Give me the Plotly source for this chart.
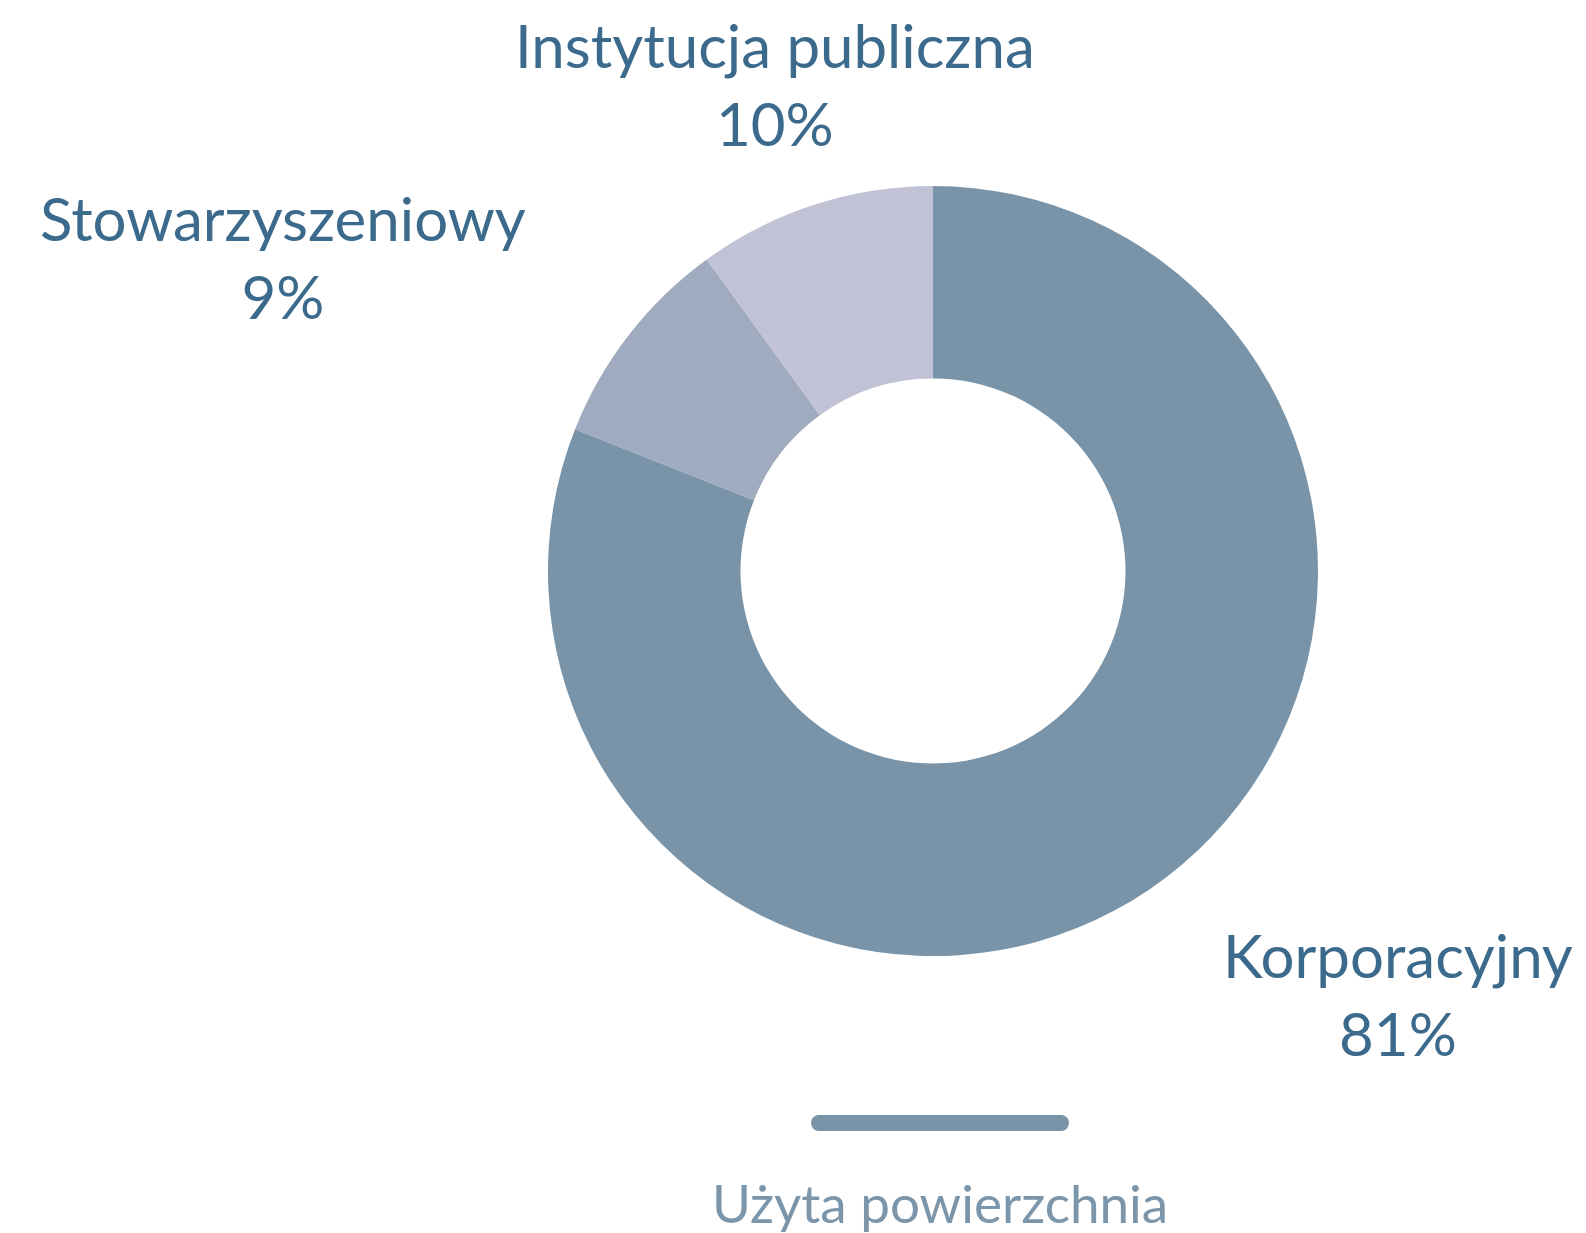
import math
import plotly.graph_objects as go

# ---- data ----
labels = ["Korporacyjny", "Stowarzyszeniowy", "Instytucja publiczna"]
values = [81, 9, 10]
colors = ["#7994a8", "#a0abc0", "#c1c2d6"]
legend_name = "Użyta powierzchnia"

# ---- layout constants (page pixel coordinates) ----
W, H = 1586, 1233
cx, cy = 933, 571      # pie center
R = 385                # outer radius in pixels
LABEL_R = 512          # radius at which labels are anchored
FONT = "Lato, 'Open Sans', sans-serif"
TEXT_COLOR = "#3b6a8c"


def px2x(px):
    return px / W


def py2y(py):
    return 1 - py / H


fig = go.Figure()
fig.add_trace(go.Pie(
    labels=labels,
    values=values,
    hole=0.5,
    sort=False,
    direction="clockwise",
    rotation=0,
    marker=dict(colors=colors, line=dict(width=0)),
    textinfo="none",
    hoverinfo="label+percent",
    showlegend=False,
    domain=dict(x=[px2x(cx - R), px2x(cx + R)],
                y=[py2y(cy + R), py2y(cy - R)]),
))

# labels positioned at mid-angle of each slice
total = sum(values)
cum = 0
annotations = []
for lab, v in zip(labels, values):
    mid = 2 * math.pi * (cum + v / 2) / total
    cum += v
    s, c = math.sin(mid), math.cos(mid)
    px = cx + LABEL_R * s
    py = cy - LABEL_R * c
    if abs(s) < 0.5:
        xa = "center"
    elif s > 0:
        xa = "left"
    else:
        xa = "right"
    pct = round(100 * v / total)
    annotations.append(dict(
        x=px2x(px), y=py2y(py), xref="paper", yref="paper",
        text=f"{lab}<br>{pct}%", showarrow=False,
        xanchor=xa, yanchor="middle", align="center",
        font=dict(family=FONT, size=60, color=TEXT_COLOR),
    ))

# legend: rounded line + caption
lx0, lx1, ly, lw = 819, 1061, 1123, 16
shapes = [
    dict(type="rect", xref="paper", yref="paper",
         x0=px2x(lx0), x1=px2x(lx1), y0=py2y(ly + lw / 2), y1=py2y(ly - lw / 2),
         fillcolor=colors[0], line=dict(width=0)),
    dict(type="circle", xref="paper", yref="paper",
         x0=px2x(lx0 - lw / 2), x1=px2x(lx0 + lw / 2),
         y0=py2y(ly + lw / 2), y1=py2y(ly - lw / 2),
         fillcolor=colors[0], line=dict(width=0)),
    dict(type="circle", xref="paper", yref="paper",
         x0=px2x(lx1 - lw / 2), x1=px2x(lx1 + lw / 2),
         y0=py2y(ly + lw / 2), y1=py2y(ly - lw / 2),
         fillcolor=colors[0], line=dict(width=0)),
]
annotations.append(dict(
    x=px2x(940), y=py2y(1202), xref="paper", yref="paper",
    text=legend_name, showarrow=False, xanchor="center", yanchor="middle",
    font=dict(family=FONT, size=53, color="#7b95aa"),
))

fig.update_layout(
    width=W, height=H,
    margin=dict(l=0, r=0, t=0, b=0),
    paper_bgcolor="white", plot_bgcolor="white",
    annotations=annotations,
    shapes=shapes,
)

fig.write_html(
    "out.html",
    config={"displayModeBar": False},
    post_script="document.body.style.margin='0';document.body.style.overflow='hidden';",
)
